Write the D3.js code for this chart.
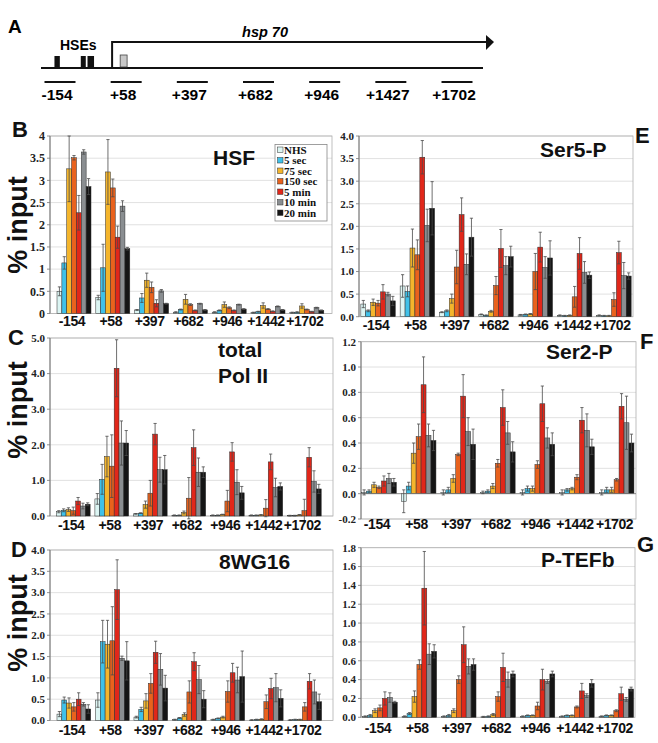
<!DOCTYPE html>
<html><head><meta charset="utf-8">
<script src="https://cdn.jsdelivr.net/npm/d3@7"></script>
<style>body{margin:0;background:#fff} svg{display:block}</style>
</head><body>
<svg id="c" width="658" height="743"></svg>
<script>
// ---------- DATA ----------
const categories = ["-154","+58","+397","+682","+946","+1442","+1702"];
const series = ["NHS","5 sec","75 sec","150 sec","5 min","10 min","20 min"];
const probeLabels = ["-154","+58","+397","+682","+946","+1427","+1702"];
const hseStartsBp = [-300, -163, -128];
const hseWidthsBp = [28, 26, 34];
const pauseBoxBp = [42, 78];

// rows = categories, columns = series
const hsfValues = [
 [0.50,1.14,3.26,3.51,2.27,3.64,2.86],
 [0.36,1.03,3.19,2.83,1.72,2.42,1.46],
 [0.08,0.35,0.75,0.59,0.23,0.51,0.22],
 [0.03,0.09,0.32,0.20,0.07,0.22,0.08],
 [0.03,0.07,0.20,0.13,0.07,0.20,0.10],
 [0.02,0.04,0.18,0.10,0.05,0.16,0.08],
 [0.02,0.03,0.17,0.09,0.04,0.13,0.07]];
const hsfErrors = [
 [0.10,0.14,0.74,0.05,0.39,0.05,0.18],
 [0.05,0.53,0.73,0.20,0.25,0.12,0.03],
 [0.01,0.10,0.16,0.12,0.08,0.03,0.01],
 [0.01,0.01,0.11,0.02,0.01,0.01,0.01],
 [0.01,0.01,0.06,0.02,0.01,0.01,0.01],
 [0.01,0.01,0.06,0.01,0.01,0.01,0.01],
 [0.01,0.01,0.05,0.01,0.01,0.01,0.01]];

const ser5Values = [
 [0.28,0.13,0.32,0.30,0.55,0.50,0.35],
 [0.68,0.56,1.52,1.37,3.53,2.02,2.40],
 [0.10,0.13,0.40,1.10,2.26,1.16,1.76],
 [0.05,0.03,0.12,0.69,1.51,1.13,1.33],
 [0.04,0.05,0.06,1.00,1.54,1.09,1.30],
 [0.03,0.02,0.03,0.44,1.40,0.98,0.92],
 [0.03,0.02,0.02,0.38,1.42,0.91,0.90]];
const ser5Errors = [
 [0.08,0.02,0.07,0.06,0.16,0.04,0.10],
 [0.25,0.12,0.42,0.33,0.37,0.36,0.59],
 [0.01,0.02,0.10,0.37,0.37,0.23,0.42],
 [0.01,0.01,0.02,0.20,0.42,0.20,0.23],
 [0.01,0.01,0.01,0.40,0.33,0.24,0.38],
 [0.01,0.01,0.01,0.23,0.35,0.24,0.07],
 [0.01,0.01,0.01,0.15,0.25,0.29,0.07]];

const polValues = [
 [0.12,0.16,0.18,0.15,0.42,0.28,0.33],
 [0.48,1.03,1.67,1.40,4.15,2.05,2.05],
 [0.06,0.08,0.32,0.64,2.30,1.30,1.30],
 [0.02,0.02,0.10,0.50,1.92,1.23,1.23],
 [0.02,0.02,0.04,0.42,1.80,0.95,0.65],
 [0.02,0.02,0.03,0.22,1.52,0.80,0.83],
 [0.01,0.01,0.03,0.15,1.65,0.97,0.76]];
const polErrors = [
 [0.03,0.04,0.05,0.10,0.10,0.08,0.04],
 [0.15,0.42,0.57,0.88,0.80,0.62,0.35],
 [0.01,0.01,0.10,0.36,0.30,0.35,0.40],
 [0.01,0.01,0.04,0.58,0.50,0.40,0.15],
 [0.01,0.01,0.01,0.30,0.26,0.35,0.18],
 [0.01,0.01,0.01,0.24,0.22,0.26,0.10],
 [0.01,0.01,0.01,0.32,0.27,0.30,0.13]];

const ser2Values = [
 [0.01,0.02,0.07,0.05,0.10,0.12,0.09],
 [-0.06,0.06,0.32,0.45,0.86,0.46,0.42],
 [0.01,0.03,0.12,0.31,0.77,0.49,0.39],
 [0.01,0.02,0.06,0.24,0.68,0.48,0.33],
 [0.01,0.04,0.04,0.23,0.71,0.44,0.39],
 [0.01,0.03,0.04,0.13,0.58,0.50,0.37],
 [0.01,0.03,0.03,0.11,0.69,0.56,0.40]];
const ser2Errors = [
 [0.02,0.01,0.02,0.01,0.04,0.04,0.03],
 [0.09,0.03,0.08,0.10,0.22,0.09,0.08],
 [0.02,0.02,0.03,0.01,0.17,0.11,0.12],
 [0.01,0.01,0.02,0.03,0.14,0.09,0.08],
 [0.02,0.02,0.02,0.03,0.14,0.08,0.09],
 [0.02,0.01,0.01,0.02,0.10,0.13,0.06],
 [0.02,0.02,0.02,0.01,0.10,0.21,0.07]];

const wgValues = [
 [0.15,0.48,0.41,0.32,0.50,0.38,0.27],
 [0.48,1.85,1.79,1.87,3.07,1.46,1.40],
 [0.08,0.26,0.46,0.87,1.60,1.20,0.76],
 [0.02,0.06,0.14,0.67,1.38,0.96,0.50],
 [0.02,0.05,0.08,0.68,1.12,0.95,1.03],
 [0.01,0.02,0.03,0.44,0.75,0.77,0.52],
 [0.01,0.02,0.02,0.32,0.92,0.67,0.44]];
const wgErrors = [
 [0.06,0.07,0.12,0.10,0.15,0.04,0.10],
 [0.17,0.50,0.56,0.80,0.70,0.05,0.45],
 [0.02,0.05,0.17,0.23,0.26,0.37,0.30],
 [0.01,0.01,0.04,0.26,0.21,0.33,0.20],
 [0.01,0.01,0.02,0.25,0.22,0.30,0.60],
 [0.01,0.01,0.01,0.16,0.24,0.33,0.20],
 [0.01,0.01,0.01,0.10,0.18,0.28,0.18]];

const ptefValues = [
 [0.01,0.02,0.07,0.10,0.20,0.21,0.16],
 [0.01,0.04,0.22,0.56,1.37,0.67,0.70],
 [0.01,0.02,0.07,0.40,0.77,0.54,0.56],
 [0.005,0.01,0.03,0.22,0.53,0.40,0.46],
 [0.01,0.02,0.02,0.12,0.40,0.38,0.46],
 [0.01,0.02,0.02,0.11,0.28,0.23,0.36],
 [0.01,0.02,0.02,0.07,0.25,0.19,0.30]];
const ptefErrors = [
 [0.005,0.01,0.02,0.03,0.07,0.05,0.01],
 [0.005,0.01,0.06,0.05,0.39,0.11,0.07],
 [0.005,0.01,0.02,0.04,0.19,0.08,0.06],
 [0.005,0.005,0.01,0.05,0.15,0.08,0.03],
 [0.005,0.005,0.005,0.04,0.11,0.02,0.03],
 [0.005,0.005,0.005,0.01,0.08,0.02,0.04],
 [0.005,0.005,0.005,0.01,0.07,0.02,0.02]];

const hsfTicks = ["0","0.5","1","1.5","2","2.5","3","3.5","4"];
const ser5Ticks = ["0.0","0.5","1.0","1.5","2.0","2.5","3.0","3.5","4.0"];
const polTicks = ["0.0","1.0","2.0","3.0","4.0","5.0"];
const ser2Ticks = ["-0.2","0.0","0.2","0.4","0.6","0.8","1.0","1.2"];
const wgTicks = ["0.0","0.5","1.0","1.5","2.0","2.5","3.0","3.5","4.0"];
const ptefTicks = ["0.0","0.2","0.4","0.6","0.8","1.0","1.2","1.4","1.6","1.8"];

// ---------- STYLE ----------
const colors = ["#dcf5f3","#3fc1e9","#f4b52c","#e9621d","#e1271a","#8a8e91","#151515"];
const SANS = "'Liberation Sans', Arial, Helvetica, sans-serif";
const SERIF = "'Liberation Serif', 'Times New Roman', serif";

const svg = d3.select("#c");

// ---------- PANEL A ----------
const gA = svg.append("g");
gA.append("text").attr("x",8).attr("y",33).text("A")
  .attr("font-family",SANS).attr("font-weight","bold").attr("font-size",19);
const bp = d3.scaleLinear().domain([-370,1930]).range([41,483]);
gA.append("line").attr("x1",bp(-370)).attr("x2",bp(1930)).attr("y1",68).attr("y2",68)
  .attr("stroke","#111").attr("stroke-width",2);
gA.append("path").attr("d",`M${bp(0)},68 V42 H488`).attr("fill","none")
  .attr("stroke","#111").attr("stroke-width",2);
gA.append("path").attr("d","M486,35 L494,42 L486,50 Z").attr("fill","#111");
gA.selectAll("rect.hse").data(hseStartsBp).enter().append("rect")
  .attr("x",d=>bp(d)).attr("width",(d,i)=>bp(d+hseWidthsBp[i])-bp(d))
  .attr("y",56).attr("height",12).attr("fill","#111");
gA.append("rect").attr("x",bp(pauseBoxBp[0])).attr("width",bp(pauseBoxBp[1])-bp(pauseBoxBp[0]))
  .attr("y",55).attr("height",12).attr("fill","#c8c8c8").attr("stroke","#444").attr("stroke-width",0.8);
gA.append("text").attr("x",60).attr("y",49.5).text("HSEs")
  .attr("font-family",SANS).attr("font-weight","bold").attr("font-size",14);
gA.append("text").attr("x",265).attr("y",37).attr("text-anchor","middle").text("hsp 70")
  .attr("font-family",SANS).attr("font-weight","bold").attr("font-style","italic").attr("font-size",14.5);
const probeX = d3.scalePoint().domain(probeLabels).range([60,457]);
gA.selectAll("line.probe").data(probeLabels).enter().append("line")
  .attr("x1",d=>probeX(d)-15.5).attr("x2",d=>probeX(d)+15.5).attr("y1",82).attr("y2",82)
  .attr("stroke","#111").attr("stroke-width",2);
gA.selectAll("text.probe").data(probeLabels).enter().append("text")
  .attr("x",d=>probeX(d)-3).attr("y",100).attr("text-anchor","middle").text(d=>d)
  .attr("font-family",SANS).attr("font-weight","bold").attr("font-size",15.5);

// ---------- BAR PANELS ----------
const panels = [
 {letter:"B", lx:12, ly:137, values:hsfValues, errors:hsfErrors, ticks:hsfTicks,
  px:[50,332], band:[54.6,326.2], dom:[0,4], yr:[313.5,136], labY:326,
  title:["HSF"], tx:213, ty:[165], tickFs:12},
 {letter:"E", lx:635, ly:143, values:ser5Values, errors:ser5Errors, ticks:ser5Ticks,
  px:[359,633], band:[358.4,633.6], dom:[0,4], yr:[316.7,136], labY:330,
  title:["Ser5-P"], tx:540, ty:[157], tickFs:11},
 {letter:"C", lx:8, ly:345, values:polValues, errors:polErrors, ticks:polTicks,
  px:[50,333], band:[54,323.6], dom:[0,5], yr:[516,338], labY:530,
  title:["total","Pol II"], tx:218, ty:[357,383], tickFs:11},
 {letter:"F", lx:640, ly:349, values:ser2Values, errors:ser2Errors, ticks:ser2Ticks,
  px:[361,636], band:[359.2,636.4], dom:[-0.2,1.2], yr:[519,341.7], labY:529,
  title:["Ser2-P"], tx:546, ty:[359], tickFs:11, zeroLine:true},
 {letter:"D", lx:11, ly:557, values:wgValues, errors:wgErrors, ticks:wgTicks,
  px:[50,333], band:[54.6,324], dom:[0,4], yr:[720.5,550], labY:735,
  title:["8WG16"], tx:219, ty:[569], tickFs:11},
 {letter:"G", lx:637, ly:552, values:ptefValues, errors:ptefErrors, ticks:ptefTicks,
  px:[361,635], band:[360.3,636], dom:[0,1.8], yr:[717.3,547.7], labY:733,
  title:["P-TEFb"], tx:541, ty:[567], tickFs:11}
];

panels.forEach(p => {
  const g = svg.append("g");
  const y = d3.scaleLinear().domain(p.dom).range(p.yr);
  const x = d3.scaleBand().domain(categories).range(p.band).paddingInner(0.124).paddingOuter(0.062);
  const xi = d3.scaleBand().domain(series).range([0, x.bandwidth()]);
  const top = y(p.dom[1]), bot = y(p.dom[0]);
  g.append("rect").attr("x",p.px[0]).attr("y",top).attr("width",p.px[1]-p.px[0]).attr("height",bot-top)
    .attr("fill","#fff");
  g.selectAll("line.grid").data(p.ticks).enter().append("line")
    .attr("x1",p.px[0]).attr("x2",p.px[1]).attr("y1",d=>y(+d)).attr("y2",d=>y(+d))
    .attr("stroke","#d9d9d9").attr("stroke-width",0.8);
  g.append("rect").attr("x",p.px[0]).attr("y",top).attr("width",p.px[1]-p.px[0]).attr("height",bot-top)
    .attr("fill","none").attr("stroke","#b0b0b0").attr("stroke-width",0.8);
  g.append("line").attr("x1",p.px[0]).attr("x2",p.px[0]).attr("y1",top).attr("y2",bot)
    .attr("stroke","#777").attr("stroke-width",1);
  g.selectAll("line.tk").data(p.ticks).enter().append("line")
    .attr("x1",p.px[0]-3).attr("x2",p.px[0]).attr("y1",d=>y(+d)).attr("y2",d=>y(+d))
    .attr("stroke","#777").attr("stroke-width",0.8);
  g.selectAll("text.tk").data(p.ticks).enter().append("text")
    .attr("x",p.px[0]-5).attr("y",d=>y(+d)).attr("dy","0.35em").attr("text-anchor","end").text(d=>d)
    .attr("font-family",SERIF).attr("font-weight","bold").attr("font-size",p.tickFs).attr("fill","#222");
  const cells = [];
  categories.forEach((c,i)=>series.forEach((s,j)=>cells.push({c,s,j,v:p.values[i][j],e:p.errors[i][j]})));
  g.selectAll("rect.bar").data(cells).enter().append("rect")
    .attr("x",d=>x(d.c)+xi(d.s)).attr("width",xi.bandwidth())
    .attr("y",d=>Math.min(y(d.v),y(0))).attr("height",d=>Math.abs(y(d.v)-y(0)))
    .attr("fill",d=>colors[d.j]).attr("stroke","#2a2a2a").attr("stroke-width",0.5);
  if (p.zeroLine) {
    g.append("line").attr("x1",p.px[0]).attr("x2",p.px[1]).attr("y1",y(0)).attr("y2",y(0))
      .attr("stroke","#777").attr("stroke-width",0.8);
  }
  const eg = g.selectAll("g.err").data(cells).enter().append("g")
    .attr("stroke","#4a4a4a").attr("stroke-width",0.8);
  const cx = d=>x(d.c)+xi(d.s)+xi.bandwidth()/2;
  eg.append("line").attr("x1",cx).attr("x2",cx).attr("y1",d=>y(d.v-d.e)).attr("y2",d=>y(d.v+d.e));
  eg.append("line").attr("x1",d=>cx(d)-1.6).attr("x2",d=>cx(d)+1.6).attr("y1",d=>y(d.v+d.e)).attr("y2",d=>y(d.v+d.e));
  eg.append("line").attr("x1",d=>cx(d)-1.6).attr("x2",d=>cx(d)+1.6).attr("y1",d=>y(d.v-d.e)).attr("y2",d=>y(d.v-d.e));
  g.selectAll("text.cat").data(categories).enter().append("text")
    .attr("x",d=>x(d)+x.bandwidth()/2-2).attr("y",p.labY).attr("text-anchor","middle").text(d=>d)
    .attr("font-family",SANS).attr("font-weight","bold").attr("font-size",14).attr("letter-spacing",-0.4).attr("fill","#111");
  p.title.forEach((t,k)=>g.append("text").attr("x",p.tx).attr("y",p.ty[k]).text(t)
    .attr("font-family",SANS).attr("font-weight","bold").attr("font-size",21).attr("fill","#111"));
  g.append("text").attr("x",p.lx).attr("y",p.ly).text(p.letter)
    .attr("font-family",SANS).attr("font-weight","bold").attr("font-size",22).attr("fill","#111");
});

[225,410,623].forEach(cy=>{
  svg.append("text").attr("transform",`translate(27,${cy}) rotate(-90)`).attr("text-anchor","middle")
    .text("% input").attr("font-family",SANS).attr("font-weight","bold").attr("font-size",27).attr("fill","#111");
});

// legend (panel B)
const lg = svg.append("g");
lg.append("rect").attr("x",275).attr("y",144.5).attr("width",52).attr("height",76.5)
  .attr("fill","#fff").attr("stroke","#888").attr("stroke-width",0.8);
const ly = d3.scalePoint().domain(series).range([150,213]);
lg.selectAll("rect.sw").data(series).enter().append("rect")
  .attr("x",277.5).attr("y",d=>ly(d)-3).attr("width",5.5).attr("height",5.5)
  .attr("fill",(d,i)=>colors[i]).attr("stroke","#333").attr("stroke-width",0.5);
lg.selectAll("text").data(series).enter().append("text")
  .attr("x",284).attr("y",d=>ly(d)).attr("dy","0.33em").text(d=>d)
  .attr("font-family",SERIF).attr("font-weight","bold").attr("font-size",11).attr("fill","#111");
</script></body></html>
